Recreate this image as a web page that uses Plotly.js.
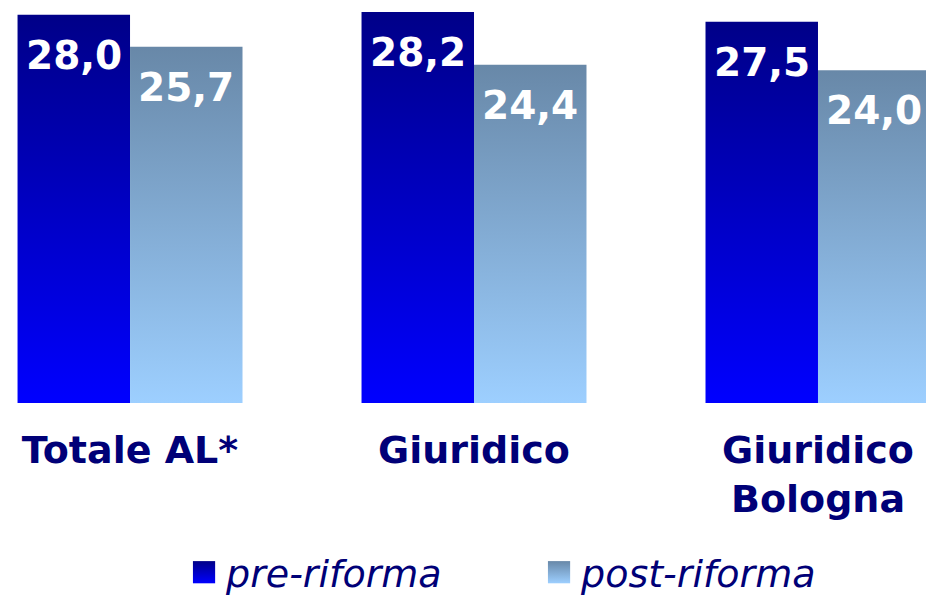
<!DOCTYPE html>
<html>
<head>
<meta charset="utf-8">
<script src="https://cdn.plot.ly/plotly-3.0.1.min.js"></script>
<style>html,body{margin:0;padding:0;background:#fff;}#chart{width:926px;height:604px;}</style>
</head>
<body>
<div id="chart"></div>
<script>
var categories = ['Totale AL*', 'Giuridico', 'Giuridico<br>Bologna'];
var preRiforma = [28.0, 28.2, 27.5];
var postRiforma = [25.7, 24.4, 24.0];
var seriesNames = ['pre-riforma', 'post-riforma'];

var bargap = 0.346;
var halfW = (1 - bargap) / 4;
var navy = '#000077';

function fmt(v){ return v.toFixed(1).replace('.', ','); }

var annotations = [];
categories.forEach(function(c, i){
  annotations.push({x: i - halfW, y: preRiforma[i], xref:'x', yref:'y', text: fmt(preRiforma[i]),
    showarrow:false, yanchor:'top', yshift:-16, font:{family:'DejaVu Sans', size:39, color:'#ffffff', weight:'bold'}});
  annotations.push({x: i + halfW, y: postRiforma[i], xref:'x', yref:'y', text: fmt(postRiforma[i]),
    showarrow:false, yanchor:'top', yshift:-16, font:{family:'DejaVu Sans', size:39, color:'#ffffff', weight:'bold'}});
});

var traces = [
  {type:'bar', name: seriesNames[0], x:[0,1,2], y: preRiforma, marker:{color:'#0000cc'}, hoverinfo:'none'},
  {type:'bar', name: seriesNames[1], x:[0,1,2], y: postRiforma, marker:{color:'#7fa6cf'}, hoverinfo:'none'}
];

var layout = {
  width: 926, height: 604,
  margin: {l:0, r:0, t:12, b:201, pad:0, autoexpand:false},
  paper_bgcolor:'#ffffff', plot_bgcolor:'#ffffff',
  barmode:'group', bargap: bargap, bargroupgap: 0,
  xaxis: {range:[-0.378, 2.314], tickmode:'array', tickvals:[0,1,2], ticktext: categories,
    ticks:'', showgrid:false, zeroline:false, showline:false, ticklabelstandoff: 21, automargin:false,
    tickfont:{family:'DejaVu Sans', size:38, color: navy, weight:'bold'}},
  yaxis: {range:[0, 28.2], visible:false, showgrid:false, zeroline:false},
  showlegend: true,
  legend: {orientation:'h', xref:'container', yref:'container', x:0.2009, xanchor:'left', y:0, yanchor:'bottom',
    font:{family:'DejaVu Sans', size:38, color: navy, style:'italic'},
    entrywidth: 310, itemclick:false, itemdoubleclick:false},
  annotations: annotations
};

Plotly.newPlot('chart', traces, layout, {displayModeBar:false, staticPlot:true}).then(function(gd){
  var svg = gd.querySelector('svg.main-svg');
  var ns = 'http://www.w3.org/2000/svg';
  var defs = svg.querySelector('defs');
  function grad(id, top, bottom){
    var g = document.createElementNS(ns, 'linearGradient');
    g.setAttribute('id', id); g.setAttribute('x1','0'); g.setAttribute('y1','0');
    g.setAttribute('x2','0'); g.setAttribute('y2','1');
    [[0, top],[1, bottom]].forEach(function(s){
      var st = document.createElementNS(ns, 'stop');
      st.setAttribute('offset', s[0]); st.setAttribute('stop-color', s[1]);
      g.appendChild(st);
    });
    defs.appendChild(g);
  }
  grad('gPre', '#000088', '#0000ff');
  grad('gPost', '#6888a8', '#9dcfff');
  var ids = ['gPre', 'gPost'];
  gd.querySelectorAll('.barlayer .trace').forEach(function(t, k){
    t.querySelectorAll('path').forEach(function(p){ p.style.fill = 'url(#' + ids[k] + ')'; });
  });
  gd.querySelectorAll('.legend .traces').forEach(function(t, k){
    t.querySelectorAll('.legendpoints path').forEach(function(p){
      p.style.fill = 'url(#' + ids[k] + ')';
      p.style.stroke = 'none';
      p.setAttribute('transform', 'translate(18,0) scale(1.85)');
    });
  });
});
</script>
</body>
</html>
